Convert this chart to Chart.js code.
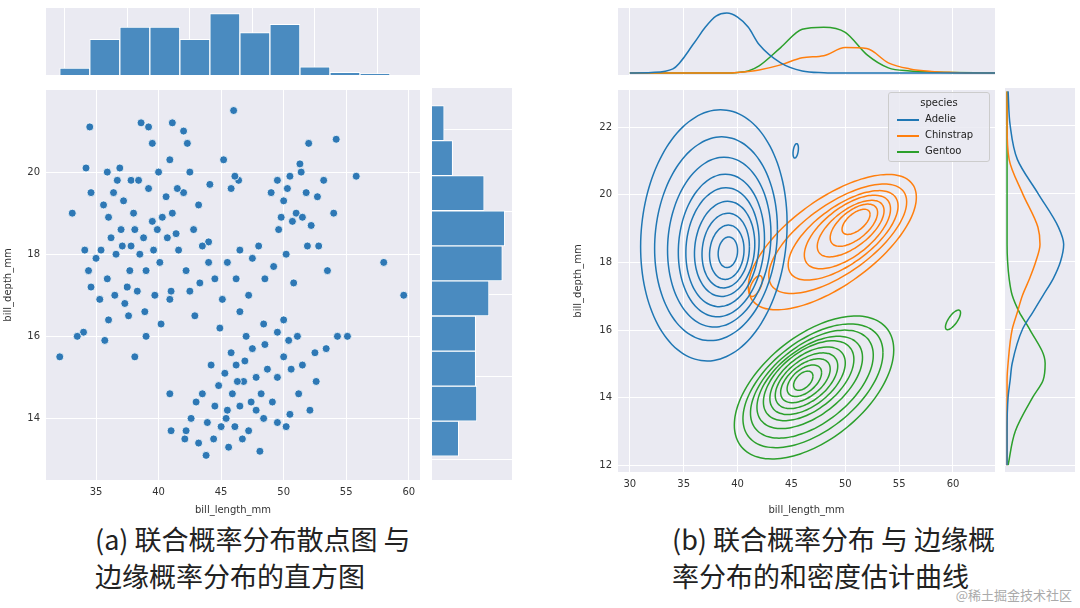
<!DOCTYPE html>
<html><head><meta charset="utf-8">
<script src="https://cdn.jsdelivr.net/npm/chart.js@4"></script>
<style>
body{margin:0;width:1080px;height:608px;background:#fff;position:relative;overflow:hidden;font-family:"DejaVu Sans",sans-serif}
canvas{position:absolute}
.cap{position:absolute;font-family:"Noto Sans CJK SC";font-size:27px;line-height:37px;color:#222}
#legend{position:absolute;left:888px;top:92px;width:100px;height:68px;background:rgba(234,234,242,0.85);border:1px solid #ccc;border-radius:3px;font-size:10px;color:#222}
#legend div{position:absolute;left:36px}
#legend span{position:absolute;left:-28px;top:6px;width:22px;height:2px}
</style></head><body>
<canvas id="lTop" style="left:46px;top:8px" width="374" height="67"></canvas>
<canvas id="lMain" style="left:0px;top:78px" width="427" height="440"></canvas>
<canvas id="lRight" style="left:432px;top:88px" width="80" height="392"></canvas>
<canvas id="rTop" style="left:618px;top:8px" width="377" height="67"></canvas>
<canvas id="rMain" style="left:570px;top:78px" width="432" height="440"></canvas>
<canvas id="rRight" style="left:1005px;top:88px" width="70" height="384"></canvas>
<div id="legend">
<div style="left:0;width:100px;text-align:center;top:4px">species</div>
<div style="top:20px"><span style="background:#1f77b4"></span>Adelie</div>
<div style="top:36px"><span style="background:#ff7f0e"></span>Chinstrap</div>
<div style="top:52px"><span style="background:#2ca02c"></span>Gentoo</div>
</div>
<div class="cap" style="left:95px;top:520px">(a) 联合概率分布散点图 与<br>边缘概率分布的直方图</div>
<div class="cap" style="left:672px;top:520px">(b) 联合概率分布 与 边缘概<br>率分布的和密度估计曲线</div>
<div style="position:absolute;right:8px;bottom:4px;font-family:'Noto Sans CJK SC';font-size:13px;color:#aaa">@稀土掘金技术社区</div>
<script>
// ---------- data ----------
const scatterPts = [[34.5,21.1],[38.6,21.2],[39.2,21.1],[41.1,21.2],[42.0,21.0],[42.3,20.7],[46.0,21.5],[39.5,20.7],[40.9,20.3],[42.5,20.0],[37.8,19.8],[36.7,19.8],[34.6,19.5],[35.6,19.2],[36.0,18.9],[37.0,18.6],[38.1,18.6],[38.8,18.4],[39.5,18.8],[40.3,18.9],[41.1,19.0],[41.4,18.5],[42.0,19.5],[43.2,19.2],[44.1,19.7],[45.8,19.6],[46.4,19.8],[39.2,19.6],[40.6,19.4],[38.0,19.0],[37.2,19.3],[36.2,18.4],[35.4,18.1],[34.1,18.1],[33.1,19.0],[34.4,17.6],[35.9,17.4],[37.7,17.6],[39.0,17.6],[40.1,17.8],[41.6,18.1],[42.8,18.6],[44.0,18.3],[35.0,17.9],[36.5,17.0],[38.3,17.1],[39.7,17.0],[41.0,17.1],[42.5,17.1],[44.5,17.4],[34.6,17.2],[35.3,16.9],[37.3,16.8],[38.9,16.6],[40.9,16.9],[36.0,16.4],[37.6,16.5],[40.2,16.3],[42.9,16.5],[34.0,16.1],[33.5,16.0],[35.7,15.9],[38.1,15.5],[39.0,16.0],[32.1,15.5],[36.6,18.0],[37.8,18.2],[39.6,18.1],[40.7,18.4],[41.5,19.6],[42.2,17.6],[43.5,18.2],[38.4,19.8],[36.9,20.1],[34.2,20.1],[35.9,20.0],[37.1,18.2],[38.5,18.0],[39.9,18.6],[36.4,19.5],[40.0,20.0],[37.5,17.2],
[45.2,20.3],[46.1,19.9],[49.5,19.8],[50.5,19.9],[51.3,20.2],[52.0,20.7],[53.2,19.8],[54.2,20.8],[49.0,19.5],[50.0,19.3],[51.0,19.0],[52.7,19.4],[49.6,18.6],[50.7,18.8],[51.5,18.9],[52.2,18.7],[48.0,18.2],[46.5,18.1],[47.5,17.9],[49.2,17.7],[50.2,18.0],[51.9,18.2],[46.2,17.4],[47.2,17.0],[48.5,17.4],[50.8,17.3],[53.5,17.6],[55.8,19.9],[58.0,17.8],[59.6,17.0],[45.5,17.8],[44.0,17.8],[43.3,17.3],[52.8,18.2],[51.4,20.0],[54.0,19.0],[49.8,18.9],[50.3,19.6],[51.8,19.5],
[45.1,16.9],[46.5,16.6],[48.4,16.3],[50.0,16.4],[51.1,16.0],[49.5,16.1],[48.5,15.8],[50.4,15.9],[52.5,15.6],[54.3,16.0],[55.1,16.0],[47.5,15.7],[46.2,15.3],[45.3,15.1],[44.8,14.8],[45.9,14.6],[46.8,14.9],[47.8,15.0],[48.7,15.2],[49.5,15.0],[50.6,15.2],[51.5,15.3],[53.4,15.7],[43.5,14.6],[44.5,14.3],[45.5,14.2],[46.5,14.3],[47.4,14.4],[48.2,14.6],[49.1,14.4],[50.5,14.1],[52.1,14.2],[42.6,14.0],[43.9,13.9],[45.0,13.8],[46.1,13.8],[47.2,13.7],[48.4,14.0],[49.5,13.9],[50.2,13.8],[41.0,13.7],[42.1,13.5],[43.2,13.4],[44.4,13.5],[45.6,13.3],[46.7,13.5],[43.8,13.1],[42.2,13.7],[40.9,14.6],[44.9,16.2],[45.8,15.6],[47.0,16.0],[52.6,14.9],[50.0,15.5],[48.1,13.2],[46.3,14.9],[44.2,15.3],[47.8,14.2],[51.2,14.6],[43.0,14.4],[45.4,14.0],[46.9,15.4]];
const lenBins = [33.3,35.7,38.1,40.5,42.9,45.3,47.7,50.1,52.5,54.9,57.3];
const lenCounts = [5,26,35,35,26,45,31,37,6,2,1];
const depBins = [13.5,14.35,15.2,16.05,16.9,17.75,18.6,19.45,20.3,21.15];
const depCounts = [22,37,36,36,47,58,60,43,17,10];
const lenTicks = [35,40,45,50,55,60];
const depTicksL = [14,16,18,20];
const lenTicksR = [30,35,40,45,50,55,60];
const depTicksR = [12,14,16,18,20,22];
const kdeX = [30,32,34,36,37,38,39,40,41,42,44,46,48,50,52,54,56,58,60,62,64];
const kdeTopAdelie = [0,0.5,4,30,45,56,59,55,45,28,10,2,0.3,0,0,0,0,0,0,0,0];
const kdeTopChin = [0,0,0,0,0,0,0,0.5,1.5,3,8,15,17,25,24,10,4,1.5,0.5,0,0];
const kdeTopGentoo = [0,0,0,0,0,0,0,0.5,2,7,25,43,45,40,18,5,2,1,0.5,0.2,0];
const kdeY = [12,13,14,14.5,15,16,16.5,17,17.5,18,18.5,19,20,21,22,23];
const kdeRAdelie = [0,0,1,3,5,15,25,35,45,52,55,50,30,10,3,1];
const kdeRChin = [0,0,0,0,1,5,10,15,22,28,32,30,15,2,0,0];
const kdeRGentoo = [1,8,25,35,37,22,12,5,2,0.5,0,0,0,0,0,0];
const adelieCx=[37.8,38.0,38.3,38.5,38.6,38.8,38.9,39.0,39.1], adelieCy=[18.8,18.7,18.6,18.5,18.45,18.4,18.35,18.3,18.3];
const adelieRx=[6.8,5.7,4.8,4.0,3.4,2.8,2.2,1.6,0.9], adelieRy=[3.7,3.0,2.5,2.1,1.75,1.4,1.1,0.8,0.45], adelieK=0.05;
const chinCx=[48.8,49.3,49.8,50.2,50.5,50.8,51.0], chinCy=[18.6,18.7,18.8,18.9,19.0,19.1,19.2];
const chinRx=[7.8,6.4,5.1,4.0,3.1,2.2,1.3], chinRy=[1.5,1.2,1.0,0.85,0.65,0.5,0.3], chinK=0.17;
const gentooCx=[47.1,47.0,46.9,46.7,46.6,46.5,46.4,46.3,46.2,46.1], gentooCy=[14.3,14.35,14.4,14.45,14.5,14.5,14.5,14.5,14.5,14.5];
const gentooRx=[7.4,6.5,5.7,4.9,4.2,3.5,2.9,2.3,1.6,0.9], gentooRy=[1.8,1.55,1.35,1.15,1.0,0.85,0.7,0.55,0.4,0.25], gentooK=0.15;
const islands=[[45.4,21.3,0.25,0.2,'#1f77b4'],[41.7,17.3,0.6,0.25,'#ff7f0e'],[60.0,16.3,0.7,0.2,'#2ca02c']];

// ---------- helpers ----------
const BG='#eaeaf2';
Chart.register({id:'bg',beforeDraw(c){const a=c.chartArea,x=c.ctx;x.save();x.fillStyle=BG;x.fillRect(a.left,a.top,a.right-a.left,a.bottom-a.top);x.restore();}});
Chart.defaults.font.family='DejaVu Sans';Chart.defaults.font.size=10;Chart.defaults.color='#333';
const grid={color:'#fff',lineWidth:1,drawTicks:false};
const noAnim={animation:false,responsive:false,plugins:{legend:{display:false},tooltip:{enabled:false}},layout:{padding:0}};
const setTicks=t=>s=>{s.ticks=t.map(v=>({value:v}));};
function hidden(min,max,t){return {type:'linear',min,max,offset:false,border:{display:false},grid,ticks:{display:false},afterBuildTicks:setTicks(t),afterFit:s=>{s.width=0;s.height=0;}};}
function axis(min,max,t,title,isX,size){return {type:'linear',min,max,offset:false,border:{display:false},grid,ticks:{padding:6},afterBuildTicks:setTicks(t),title:{display:true,text:title,padding:2},afterFit:s=>{if(isX)s.height=size;else s.width=size;}};}
function ellipse(cx,cy,rx,ry,k){const p=[];for(let i=0;i<=72;i++){const t=i/72*2*Math.PI;const dx=rx*Math.cos(t);p.push({x:cx+dx,y:cy+ry*Math.sin(t)+k*dx});}return p;}
const line=(data,color)=>({type:'line',data,borderColor:color,borderWidth:1.5,pointRadius:0,tension:0.4,fill:false});
const pad={...noAnim,layout:{padding:{top:10,right:7}}};

// ---------- left ----------
new Chart(lTop,{type:'bar',data:{datasets:[{data:lenBins.map((b,i)=>({x:b,y:lenCounts[i]})),backgroundColor:'#4a8bc0',borderColor:'#fff',borderWidth:1,categoryPercentage:1,barPercentage:1}]},
 options:{...noAnim,scales:{x:hidden(31,60.9,lenTicks),y:{...hidden(0,49,[]),grid:{display:false}}}}});
new Chart(lMain,{type:'scatter',data:{datasets:[{data:scatterPts.map(p=>({x:p[0],y:p[1]})),backgroundColor:'#2e78b5',borderColor:'#fff',borderWidth:0.8,pointRadius:4}]},
 options:{...pad,scales:{x:axis(31,60.9,lenTicks,'bill_length_mm',true,38),y:axis(12.5,22,depTicksL,'bill_depth_mm',false,46)}}});
new Chart(lRight,{type:'bar',data:{datasets:[{data:depBins.map((b,i)=>({y:b,x:depCounts[i]})),backgroundColor:'#4a8bc0',borderColor:'#fff',borderWidth:1,categoryPercentage:1,barPercentage:1}]},
 options:{...noAnim,indexAxis:'y',scales:{y:hidden(12.5,22,depTicksL),x:{...hidden(0,66,[]),grid:{display:false}}}}});

// ---------- right ----------
const cont=[];
const addSet=(cx,cy,rx,ry,k,col)=>rx.forEach((r,i)=>cont.push(line(ellipse(cx[i],cy[i],r,ry[i],k),col)));
addSet(adelieCx,adelieCy,adelieRx,adelieRy,adelieK,'#1f77b4');
addSet(chinCx,chinCy,chinRx,chinRy,chinK,'#ff7f0e');
addSet(gentooCx,gentooCy,gentooRx,gentooRy,gentooK,'#2ca02c');
islands.forEach(s=>cont.push(line(ellipse(s[0],s[1],s[2],s[3],0.3),s[4])));
new Chart(rMain,{type:'line',data:{datasets:cont},options:{...pad,scales:{x:axis(28.9,63.9,lenTicksR,'bill_length_mm',true,46),y:axis(11.8,23.1,depTicksR,'bill_depth_mm',false,48)}}});
const topSets=[[kdeTopAdelie,'#1f77b4'],[kdeTopChin,'#ff7f0e'],[kdeTopGentoo,'#2ca02c']].map(([d,c])=>({...line(kdeX.map((x,i)=>({x,y:d[i]})),c),cubicInterpolationMode:'monotone'}));
new Chart(rTop,{type:'line',data:{datasets:topSets},options:{...noAnim,scales:{x:hidden(28.9,63.9,lenTicksR),y:{...hidden(-2,64,[]),grid:{display:false}}}}});
const rSets=[[kdeRAdelie,'#1f77b4'],[kdeRChin,'#ff7f0e'],[kdeRGentoo,'#2ca02c']].map(([d,c])=>({...line(kdeY.map((y,i)=>({y,x:d[i]})),c),indexAxis:'y',cubicInterpolationMode:'monotone'}));
new Chart(rRight,{type:'line',data:{datasets:rSets},options:{...noAnim,indexAxis:'y',scales:{y:hidden(11.8,23.1,depTicksR),x:{...hidden(-2,66,[]),grid:{display:false}}}}});
</script></body></html>
